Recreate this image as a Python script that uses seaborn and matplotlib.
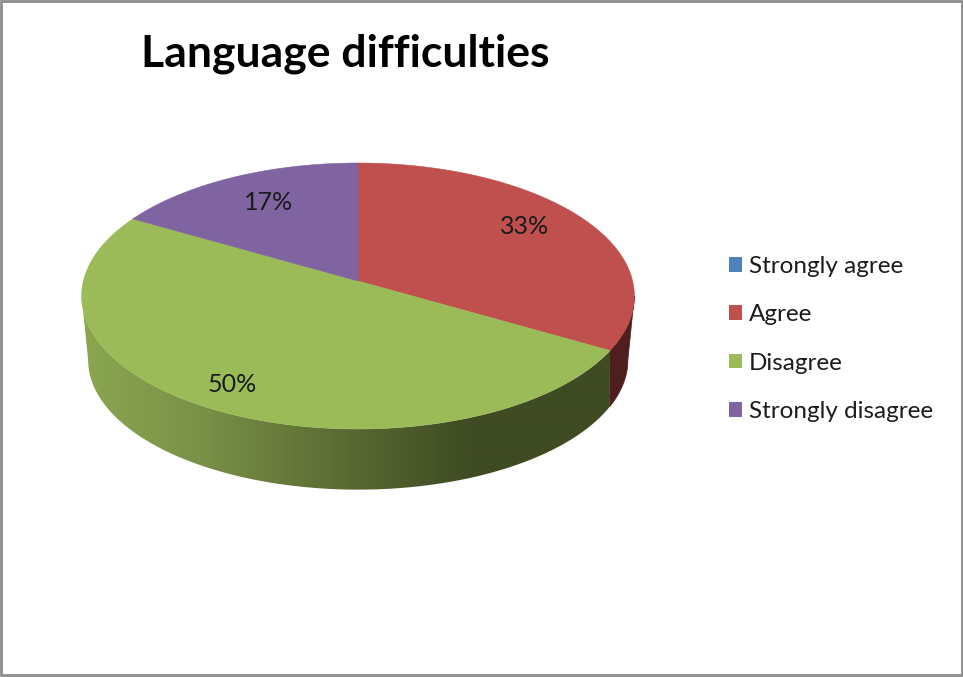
import numpy as np
import matplotlib
matplotlib.use("Agg")
import matplotlib.pyplot as plt
from matplotlib.patches import Patch, Polygon, Rectangle
import seaborn as sns

# data
categories = ["Strongly agree", "Agree", "Disagree", "Strongly disagree"]
shares = [0, 33.33, 50, 16.67]
pct_labels = ["0%", "33%", "50%", "17%"]
chart_title = "Language difficulties"
colors = ["#4f81bd", "#c0504d", "#9bbb59", "#8064a2"]

sns.set_theme(style="white")
plt.rcParams["font.family"] = ["Lato", "DejaVu Sans"]


def project(theta, a, b, k, cy):
    # angle clockwise from 12 o'clock -> tilted disc with perspective
    u, v = np.sin(theta), np.cos(theta)
    d = 1 + k * v
    return 358 + a * u / d, cy - b * v / d


TOP = dict(a=274.6, b=131.3, k=0.1128, cy=281)
BOTTOM = dict(a=266, b=126, k=0.169, cy=338)


def silhouette(disc):
    # angles where each disc is widest, the rim ends there
    t = np.arccos(-disc["k"])
    return t, 2 * np.pi - t


def rim_polygon(lo_top, hi_top, lo_bot, hi_bot, **kw):
    xt, yt = project(np.linspace(lo_top, hi_top, 300), **TOP)
    xb, yb = project(np.linspace(hi_bot, lo_bot, 300), **BOTTOM)
    return Polygon(np.c_[np.r_[xt, xb], np.r_[yt, yb]], closed=True, **kw)


fig, ax = plt.subplots(figsize=(9.63, 6.77), dpi=100)
ax.set_position([0, 0, 1, 1])

ends = np.radians(np.cumsum(shares) * 3.6)
top_r, top_l = silhouette(TOP)
bot_r, bot_l = silhouette(BOTTOM)

# rim of the agree slice is flat dark
ax.add_patch(rim_polygon(top_r, ends[1], bot_r, ends[1], fc="#4e1f1e", ec="#4e1f1e", lw=0.5, zorder=2))

# rim of the disagree slice gets the lighting gradient along x
stops_x = [85, 200, 360, 470, 620]
stops_rgb = np.array([[0x8a, 0xa6, 0x50], [0x7a, 0x91, 0x47], [0x56, 0x66, 0x30],
                      [0x3f, 0x4b, 0x22], [0x3f, 0x4b, 0x22]]) / 255
grid = np.arange(80, 625)
grad = np.stack([np.interp(grid, stops_x, stops_rgb[:, c]) for c in range(3)], axis=-1)[None, :, :]
rim = rim_polygon(ends[1], top_l, ends[1], bot_l, fc="none", ec="none", transform=ax.transData)
ax.add_patch(rim)
img = ax.imshow(grad, extent=(80, 625, 500, 200), aspect="auto", zorder=2, interpolation="bilinear")
img.set_clip_path(rim)

ax.set_xlim(0, 963)
ax.set_ylim(677, 0)
ax.axis("off")

# top face
starts = np.concatenate([[0], ends[:-1]])
for i in range(len(shares)):
    if shares[i] == 0:
        continue
    th = np.linspace(starts[i], ends[i], 200)
    xs, ys = project(th, **TOP)
    ax.fill(np.r_[358, xs], np.r_[TOP["cy"], ys], color=colors[i], lw=0.4, zorder=3)

# percent labels
label_xy = {1: (525, 227), 2: (232, 385), 3: (269, 202)}
for i, (x, y) in label_xy.items():
    ax.text(x, y, pct_labels[i], ha="center", va="center", fontsize=18, color="#1c1c1c", zorder=5)

ax.text(345, 54, chart_title, ha="center", va="center", fontsize=32, fontweight="bold", color="black")

handles = [Patch(facecolor=c, edgecolor="none") for c in colors]
ax.legend(handles, categories, loc="center left", bbox_to_anchor=(729 / 963, 1 - 339 / 677),
          frameon=False, fontsize=17.5, labelcolor="#1c1c1c", labelspacing=1.12,
          handlelength=0.55, handleheight=0.55, handletextpad=0.27, borderpad=0, borderaxespad=0)

# outer frame of the screenshot
ax.add_patch(Rectangle((1, 1), 960.5, 673.5, fill=False, ec="#8c8c8c", lw=2, zorder=6, clip_on=False))

fig.savefig("out.png", dpi=100)
